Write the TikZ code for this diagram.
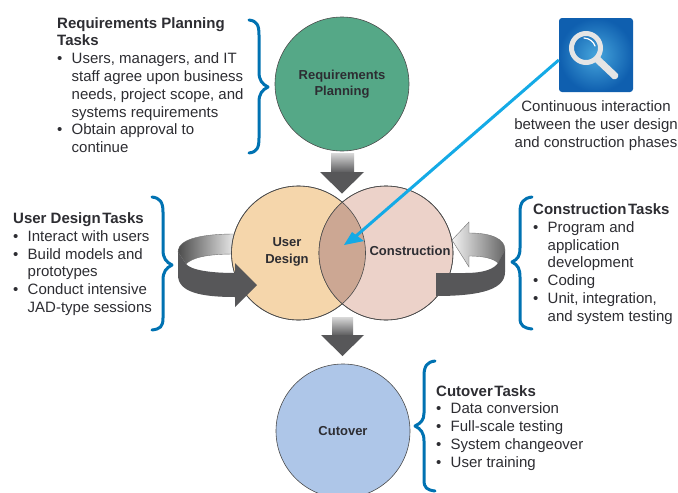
\documentclass[tikz,border=0pt]{standalone}
\usepackage{fontspec}
\setmainfont{Liberation Sans}
\usetikzlibrary{calc}
\definecolor{brk}{RGB}{0,114,178}
\definecolor{arrowdark}{RGB}{87,87,89}
\definecolor{cyanline}{RGB}{20,170,230}
\definecolor{txt}{RGB}{45,45,50}
\tikzset{
  x=1pt,y=-1pt,
  bubble/.style={circle,draw=black!70,line width=0.6pt,minimum size=134pt,inner sep=0pt},
  lbl/.style={font=\fontsize{13}{16.5}\selectfont\bfseries,text=txt,align=center},
  task/.style={anchor=north west,inner sep=0pt,font=\fontsize{15}{17.8}\selectfont,text=txt,align=left},
  brace/.style={draw=brk,line width=3pt,line cap=round,line join=round},
  bandedge/.style={draw=black!55,line width=0.4pt}
}
\newcommand{\bul}{\makebox[14.5pt][l]{\textbullet}}
\begin{document}
\begin{tikzpicture}
\useasboundingbox (0,0) rectangle (678,493);
\fill[white] (0,0) rectangle (678,493);
% block arrows
\shade[top color=black!15,bottom color=arrowdark,draw=none] (331,153) rectangle (354,173);
\fill[arrowdark] (320,172) -- (364,172) -- (342,193.5) -- cycle;
\shade[top color=black!15,bottom color=arrowdark,draw=none] (332,317) rectangle (353,336);
\fill[arrowdark] (321,335) -- (364,335) -- (342.5,356) -- cycle;
% left loop, light band
\shade[bandedge,left color=black!70,right color=black!8] (235,234)
  .. controls (205,234) and (178,238) .. (178,252) -- (186,264)
  .. controls (192,258) and (205,254) .. (235,254) -- cycle;
% circles
\node[bubble,fill={rgb,255:red,85;green,168;blue,135}] (req) at (342,84) {};
\node[bubble,fill={rgb,255:red,245;green,214;blue,171}] (ud) at (298.5,253) {};
\node[bubble,fill={rgb,255:red,236;green,210;blue,201}] (con) at (386,253) {};
\begin{scope}
\clip (298.5,253) circle (67);
\fill[fill={rgb,255:red,204;green,167;blue,147}] (386,253) circle (67);
\end{scope}
\draw[black!70,line width=0.6pt] (ud.center) circle (67);
\draw[black!70,line width=0.6pt] (con.center) circle (67);
\node[bubble,fill={rgb,255:red,174;green,198;blue,232}] (cut) at (343,431) {};
% left loop, dark band
\fill[arrowdark] (178,252) -- (186,264) .. controls (191,270) and (210,273) .. (235,273)
  -- (235,263) -- (257,285) -- (235,307) -- (235,297)
  .. controls (200,297) and (178,292) .. (178,275) -- cycle;
% right loop
\shade[bandedge,left color=black!5,right color=black!60] (452,240) -- (469,222) -- (469,233)
  .. controls (492,233) and (505,239) .. (505,250) -- (498,263)
  .. controls (494,259) and (485,256) .. (469,256) -- (469,267) -- cycle;
\fill[arrowdark] (436,273) -- (465,273) .. controls (484,273) and (494,269) .. (498,263) -- (505,250)
  -- (505,272) .. controls (505,288) and (485,296) .. (436,296) -- cycle;
% labels
\node[lbl] at (342,84) {Requirements\\Planning};
\node[lbl] at (287,252) {User\\Design};
\node[lbl] at (410,251) {Construction};
\node[lbl] at (cut) {Cutover};
% icon
\node[rounded corners=3pt,minimum size=74pt,inner sep=0pt,inner color={rgb,255:red,70;green,165;blue,220},outer color={rgb,255:red,15;green,95;blue,175}] (icon) at (596,55) {};
\draw[black!10,line width=5pt] (586,48) circle (14.5);
\fill[black!10] (595,62) -- (600,57) -- (618,74) .. controls (619,78) and (616,80) .. (613,79) -- cycle;
\draw[white,line width=1.2pt,line cap=round] (584,38) .. controls (589,38) and (594,42) .. (595,46);
% interaction arrow
\coordinate (tip) at (344,245);
\draw[cyanline,line width=3pt] (icon.west) ++(0,5) -- ($(tip)+(12,-9)$);
\fill[cyanline] (tip) -- (352,232) -- (364,241) -- cycle;
\node[anchor=north,inner sep=0pt,align=center,font=\fontsize{15}{17.8}\selectfont,text=txt] (note) at (596,100.5) {Continuous interaction\\between the user design\\and construction phases};
% texts
\node[task] (t1) at (57,17) {\textbf{Requirements Planning}\\\textbf{Tasks}\\\bul Users, managers, and IT\\\hphantom{\bul}staff agree upon business\\\hphantom{\bul}needs, project scope, and\\\hphantom{\bul}systems requirements\\\bul Obtain approval to\\\hphantom{\bul}continue};
\node[task] (t2) at (13,212.5) {\textbf{User Design\hspace{-2.6pt} Tasks}\\\bul Interact with users\\\bul Build models and\\\hphantom{\bul}prototypes\\\bul Conduct intensive\\\hphantom{\bul}JAD-type sessions};
\node[task] (t3) at (533,203.5) {\textbf{Construction\hspace{-2.6pt} Tasks}\\\bul Program and\\\hphantom{\bul}application\\\hphantom{\bul}development\\\bul Coding\\\bul Unit, integration,\\\hphantom{\bul}and system testing};
\node[task] (t4) at (436,385) {\textbf{Cutover\hspace{-2.6pt} Tasks}\\\bul Data conversion\\\bul Full-scale testing\\\bul System changeover\\\bul User training};
% braces
\draw[brace] (249,20) .. controls (257,21) and (259,25) .. (259,35) -- (259,72) .. controls (259,80) and (262,84) .. (268,87)
  .. controls (262,90) and (259,94) .. (259,102) -- (259,138) .. controls (259,148) and (257,152) .. (249,153);
\draw[brace] (152,197) .. controls (160,198) and (163,202) .. (163,212) -- (163,250) .. controls (163,258) and (166,262) .. (172,265)
  .. controls (166,268) and (163,272) .. (163,280) -- (163,318) .. controls (163,327) and (160,329) .. (152,330);
\draw[brace] (532,197) .. controls (524,198) and (520,202) .. (520,212) -- (520,248) .. controls (520,256) and (518,259) .. (512,262)
  .. controls (518,265) and (520,269) .. (520,277) -- (520,318) .. controls (520,326) and (524,328) .. (532,329);
\draw[brace] (435,361) .. controls (427,362) and (424,366) .. (424,376) -- (424,413) .. controls (424,420) and (421,423) .. (415,426)
  .. controls (421,429) and (424,433) .. (424,441) -- (424,480) .. controls (424,488) and (427,490) .. (435,491);
\end{tikzpicture}
\end{document}
